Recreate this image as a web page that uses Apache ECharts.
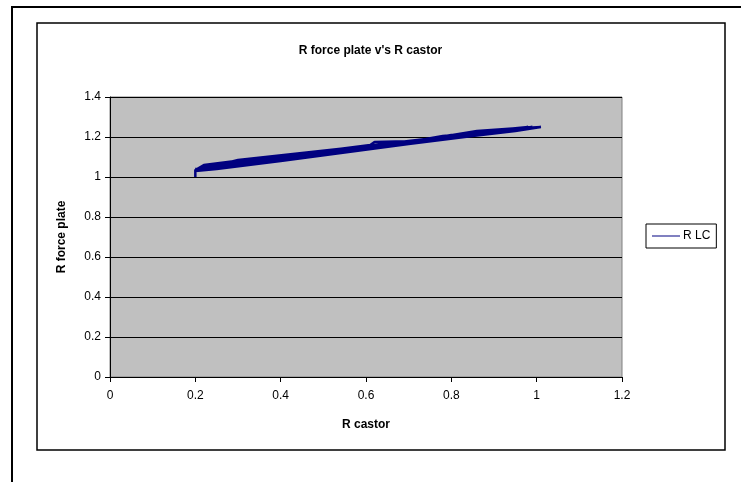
<!DOCTYPE html>
<html lang="en">
<head>
    <meta charset="UTF-8">
    <title>R force plate v's R castor</title>
    <script src="https://cdn.jsdelivr.net/npm/echarts@6/dist/echarts.min.js"></script>
    <style>
        html, body { margin: 0; padding: 0; background: #fff; }
    </style>
</head>
<body>
    <div id="container" style="width: 741px;height: 482px"></div>
<script>
// values (back-and-forth loops of the R LC trace)
var castorX = [0.20, 0.20, 0.22, 0.35, 0.50, 0.61, 0.62, 0.72, 0.80, 0.82, 0.90, 0.97, 1.01,
    0.95, 0.85, 0.70, 0.55, 0.40, 0.25, 0.20,
    0.30, 0.45, 0.60, 0.74, 0.78, 0.86, 0.93, 0.99,
    0.90, 0.76, 0.62, 0.48, 0.34, 0.21,
    0.26, 0.40, 0.55, 0.68, 0.83, 0.95,
    0.85, 0.70, 0.52, 0.36, 0.22,
    0.38, 0.52, 0.66, 0.80, 0.92, 0.98,
    0.82, 0.66, 0.50, 0.32, 0.20,
    0.33, 0.48, 0.64, 0.76, 0.86, 0.96,
    0.88, 0.74, 0.58, 0.43, 0.28, 0.20];
var forcePlateY = [1.00, 1.035, 1.06, 1.095, 1.13, 1.16, 1.175, 1.18, 1.21, 1.215, 1.235, 1.245, 1.25,
    1.23, 1.205, 1.165, 1.122, 1.08, 1.04, 1.03,
    1.085, 1.12, 1.155, 1.19, 1.205, 1.22, 1.24, 1.25,
    1.225, 1.185, 1.145, 1.105, 1.07, 1.035,
    1.06, 1.095, 1.135, 1.17, 1.21, 1.24,
    1.215, 1.175, 1.125, 1.085, 1.045,
    1.10, 1.135, 1.17, 1.205, 1.238, 1.25,
    1.205, 1.16, 1.115, 1.07, 1.04,
    1.09, 1.125, 1.165, 1.195, 1.23, 1.245,
    1.215, 1.18, 1.135, 1.09, 1.05, 1.03];
var seriesName = 'R LC';

var points = castorX.map(function (x, i) {
    return [x, forcePlateY[i]];
});

var chart = echarts.init(document.getElementById('container'));
var font = '"Liberation Sans", Arial, sans-serif';

chart.setOption({
    backgroundColor: '#ffffff',
    animation: false,
    textStyle: { fontFamily: font },
    title: {
        text: "R force plate v's R castor",
        left: 'center',
        top: 40,
        textStyle: { fontFamily: font, fontSize: 12, fontWeight: 'bold', color: '#000' }
    },
    graphic: [
        {
            type: 'rect',
            shape: { x: 12, y: 7, width: 760, height: 500 },
            style: { fill: 'none', stroke: '#000', lineWidth: 2 },
            silent: true
        },
        {
            type: 'rect',
            shape: { x: 37, y: 23, width: 688, height: 427 },
            style: { fill: 'none', stroke: '#000', lineWidth: 1.5 },
            silent: true
        }
    ],
    legend: {
        left: 646,
        top: 224,
        orient: 'vertical',
        padding: [6, 6, 6, 6],
        borderColor: '#000',
        borderWidth: 1,
        itemWidth: 28,
        itemHeight: 1,
        itemGap: 5,
        icon: 'rect',
        textStyle: { fontFamily: font, fontSize: 12, color: '#000', padding: [0, 0, 0, -2] },
        data: [seriesName]
    },
    grid: {
        left: 110,
        top: 97,
        right: 119,
        bottom: 105,
        show: true,
        backgroundColor: '#c0c0c0',
        borderColor: '#808080',
        borderWidth: 1
    },
    xAxis: {
        type: 'value',
        min: 0,
        max: 1.2,
        interval: 0.2,
        name: 'R castor',
        nameLocation: 'middle',
        nameGap: 42,
        nameTextStyle: { fontFamily: font, fontSize: 12, fontWeight: 'bold', color: '#000' },
        axisLine: { lineStyle: { color: '#000', width: 1 } },
        axisTick: { show: true, inside: false, length: 5, lineStyle: { color: '#000' } },
        axisLabel: { fontFamily: font, fontSize: 12, color: '#000', margin: 13 },
        splitLine: { show: false }
    },
    yAxis: {
        type: 'value',
        min: 0,
        max: 1.4,
        interval: 0.2,
        name: 'R force plate',
        nameLocation: 'middle',
        nameGap: 42,
        nameTextStyle: { fontFamily: font, fontSize: 12, fontWeight: 'bold', color: '#000' },
        axisLine: { show: true, lineStyle: { color: '#000', width: 1 } },
        axisTick: { show: true, inside: false, length: 5, lineStyle: { color: '#000' } },
        axisLabel: { fontFamily: font, fontSize: 12, color: '#000', margin: 9 },
        splitLine: { show: true, lineStyle: { color: '#000', width: 1 } }
    },
    series: [
        {
            name: seriesName,
            type: 'line',
            data: points,
            symbol: 'none',
            showSymbol: false,
            lineStyle: { color: '#000080', width: 2.5 },
            itemStyle: { color: '#000080' }
        }
    ]
});
</script>
</body>
</html>
